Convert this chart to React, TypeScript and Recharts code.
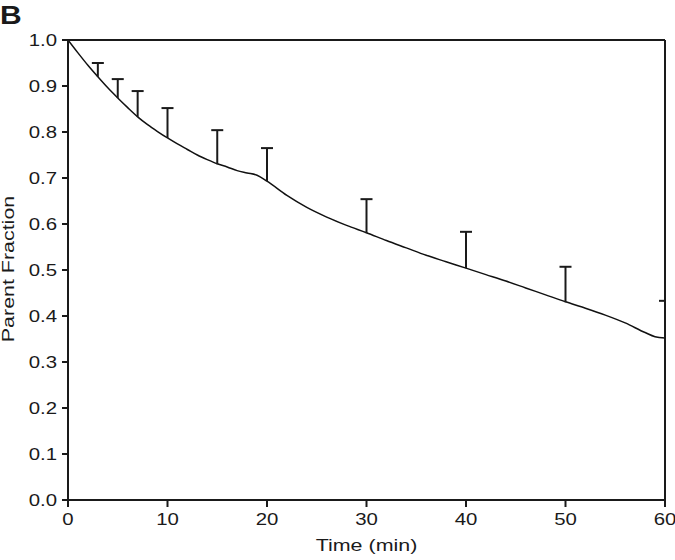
import { ComposedChart, Line, Scatter, ErrorBar, XAxis, YAxis, ReferenceLine } from 'recharts';

// fitted parent fraction curve
const curveTime = [0, 1, 2, 3, 4, 5, 6, 7, 8, 9, 10, 11, 12, 13, 14, 15, 16, 17, 18, 19, 20, 22, 24, 26, 28, 30, 32, 34, 36, 38, 40, 42, 44, 46, 48, 50, 52, 54, 56, 58, 59, 60];
const curveValue = [1.0, 0.972, 0.945, 0.92, 0.896, 0.874, 0.853, 0.833, 0.816, 0.801, 0.787, 0.774, 0.762, 0.75, 0.74, 0.731, 0.724, 0.716, 0.711, 0.706, 0.693, 0.662, 0.636, 0.615, 0.597, 0.581, 0.564, 0.548, 0.532, 0.518, 0.504, 0.49, 0.476, 0.461, 0.446, 0.431, 0.417, 0.402, 0.385, 0.364, 0.355, 0.352];

// sampled points with upper error bars
const sampleTime = [3, 5, 7, 10, 15, 20, 30, 40, 50, 60];
const sampleMean = [0.92, 0.874, 0.833, 0.787, 0.73, 0.693, 0.58, 0.504, 0.43, 0.352];
const sampleUpper = [0.95, 0.915, 0.889, 0.852, 0.804, 0.765, 0.654, 0.583, 0.507, 0.433];

const xTicks = [0, 10, 20, 30, 40, 50, 60];
const yTicks = [0, 0.1, 0.2, 0.3, 0.4, 0.5, 0.6, 0.7, 0.8, 0.9, 1.0];

const curveData = curveTime.map((t, i) => ({ t, v: curveValue[i] }));
const sampleData = sampleTime.map((t, i) => ({
  t,
  v: sampleUpper[i],
  err: [sampleUpper[i] - sampleMean[i], 0],
}));

const FONT = '"Liberation Sans", Arial, Helvetica, sans-serif';
const INK = '#1a1a1a';

const XTick = (props: any) => {
  const { x, y, payload } = props;
  return (
    <g transform={`translate(${x},${y})`}>
      <text transform="scale(1.2,1)" textAnchor="middle" dy={17.5} fontSize={17} fontFamily={FONT} fill={INK}>
        {payload.value}
      </text>
    </g>
  );
};

const YTick = (props: any) => {
  const { x, y, payload } = props;
  return (
    <g transform={`translate(${x - 3},${y})`}>
      <text transform="scale(1.2,1)" textAnchor="end" dy={6} fontSize={17} fontFamily={FONT} fill={INK}>
        {Number(payload.value).toFixed(1)}
      </text>
    </g>
  );
};

const XTitle = (props: any) => {
  const { x, y, width } = props.viewBox;
  return (
    <g transform={`translate(${x + width / 2},${y + 51})`}>
      <text transform="scale(1.3,1)" textAnchor="middle" fontSize={16.5} fontFamily={FONT} fill={INK}>
        Time (min)
      </text>
    </g>
  );
};

const YTitle = (props: any) => {
  const { x, y, height } = props.viewBox;
  return (
    <g>
      <g transform={`translate(${x + 14},${y + height / 2 - 1}) rotate(-90)`}>
        <text transform="scale(1.26,1)" textAnchor="middle" fontSize={17} fontFamily={FONT} fill={INK}>
          Parent Fraction
        </text>
      </g>
      <g transform="translate(0,24)">
        <text transform="scale(1.2,1)" fontSize={25} fontWeight="bold" fontFamily={FONT} fill={INK}>
          B
        </text>
      </g>
    </g>
  );
};

const Cap = (props: any) => {
  const { cx, cy } = props;
  return <line x1={cx - 6} x2={cx + 6} y1={cy} y2={cy} stroke={INK} strokeWidth={2} />;
};

export default function App() {
  return (
    <div style={{ position: 'absolute', left: 0, top: 0, background: '#fff' }}>
      <ComposedChart width={675} height={560} margin={{ top: 40, right: 10, bottom: 0, left: 0 }}>
        <XAxis
          dataKey="t"
          type="number"
          domain={[0, 60]}
          ticks={xTicks}
          height={60}
          tickSize={7}
          tickMargin={1}
          tick={<XTick />}
          stroke={INK}
          strokeWidth={2}
          allowDataOverflow
          label={{ content: <XTitle /> }}
        />
        <YAxis
          dataKey="v"
          type="number"
          domain={[0, 1]}
          ticks={yTicks}
          width={68}
          tickSize={6}
          tickMargin={2}
          tick={<YTick />}
          stroke={INK}
          strokeWidth={2}
          allowDataOverflow
          label={{ content: <YTitle /> }}
        />
        <ReferenceLine y={1} stroke={INK} strokeWidth={2} />
        <ReferenceLine x={60} stroke={INK} strokeWidth={2} />
        <Line
          data={curveData}
          dataKey="v"
          type="monotone"
          stroke="#111"
          strokeWidth={1.5}
          dot={false}
          isAnimationActive={false}
        />
        <Scatter data={sampleData} dataKey="v" shape={<Cap />} isAnimationActive={false}>
          <ErrorBar dataKey="err" direction="y" width={0} stroke={INK} strokeWidth={2} isAnimationActive={false} />
        </Scatter>
      </ComposedChart>
    </div>
  );
}
